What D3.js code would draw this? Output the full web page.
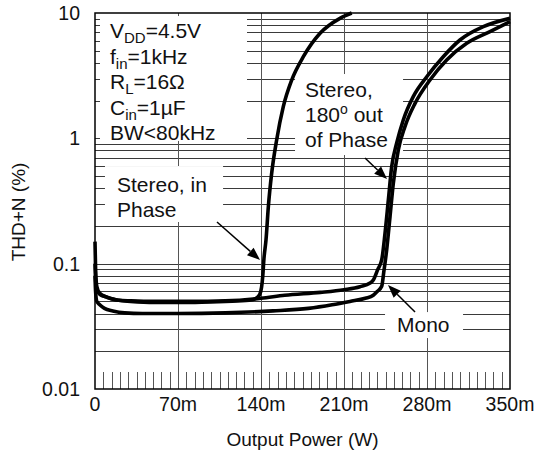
<!DOCTYPE html>
<html><head><meta charset="utf-8">
<script src="https://cdn.jsdelivr.net/npm/d3@7"></script>
<style>
html,body{margin:0;padding:0;background:#fff;}
text{font-family:"Liberation Sans",Arial,Helvetica,sans-serif;fill:#111;}
</style></head>
<body><svg id="c" width="535" height="450"></svg>
<script>
// ---- data ----
const xTickValues = [0, 70, 140, 210, 280, 350];
const xTickLabels = ["0", "70m", "140m", "210m", "280m", "350m"];
const yTickValues = [0.01, 0.1, 1, 10];
const yTickLabels = ["0.01", "0.1", "1", "10"];

// Output power (mW) and THD+N (%)
const stereoInPhaseP = [0, 0.5, 1.5, 4, 10, 20, 30, 50, 80, 110, 130, 136, 139, 140.5, 141.5, 142.5, 144.2, 146.2, 149, 153.2, 158.8, 165.9, 175.7, 189.8, 206.6, 216.5];
const stereoInPhaseT = [0.15, 0.09, 0.066, 0.058, 0.054, 0.051, 0.05, 0.049, 0.049, 0.05, 0.051, 0.053, 0.057, 0.065, 0.08, 0.11, 0.154, 0.285, 0.526, 0.97, 1.79, 2.92, 4.48, 6.89, 9.07, 10];

const stereoOutP = [0, 0.5, 1.5, 4, 10, 20, 30, 50, 80, 110, 140, 160, 190, 210, 223.5, 232, 234.7, 238.5, 241.8, 244.6, 247.4, 250.2, 254.4, 260, 268.4, 279.8, 293.7, 307.8, 327.5, 350];
const stereoOutT = [0.1, 0.075, 0.062, 0.057, 0.054, 0.051, 0.0505, 0.05, 0.05, 0.0505, 0.053, 0.056, 0.059, 0.062, 0.0655, 0.07, 0.074, 0.09, 0.107, 0.175, 0.322, 0.594, 0.913, 1.4, 2.15, 3.1, 4.48, 6.09, 7.78, 9.07];

const monoP = [0, 0.5, 1.5, 4, 8, 15, 25, 40, 70, 110, 150, 180, 200, 215, 228, 234.7, 238, 241.8, 243.5, 246, 248.8, 251.6, 255.8, 261.4, 269.9, 282.5, 296.6, 313.5, 333.1, 350];
const monoT = [0.08, 0.06, 0.05, 0.047, 0.044, 0.042, 0.0405, 0.04, 0.04, 0.0405, 0.042, 0.044, 0.047, 0.05, 0.053, 0.056, 0.06, 0.066, 0.085, 0.129, 0.237, 0.438, 0.807, 1.24, 1.9, 2.92, 4.22, 5.73, 7.1, 8.53];

// ---- layout ----
const W = 535, H = 450;
const m = {left: 95, right: 25, top: 13, bottom: 61};
const iw = W - m.left - m.right, ih = H - m.top - m.bottom;
const FS = 19.5;   // tick labels
const BFS = 21;    // annotation text

const svg = d3.select("#c");
const g = svg.append("g").attr("transform", `translate(${m.left},${m.top})`);

const x = d3.scaleLinear().domain([0, 350]).range([0, iw]);
const y = d3.scaleLog().domain([0.01, 10]).range([ih, 0]);

// horizontal log grid
const hGrid = [];
[0.01, 0.1, 1].forEach(d => { for (let k = 1; k <= 9; k++) hGrid.push(d * k); });
g.append("g").selectAll("line").data(hGrid.filter(v => v > 0.01 && v < 10)).join("line")
  .attr("x1", 0).attr("x2", iw)
  .attr("y1", d => Math.round(y(d)) + 0.5).attr("y2", d => Math.round(y(d)) + 0.5)
  .attr("stroke", "#3a3a3a").attr("stroke-width", 1);

// vertical grid
g.append("g").selectAll("line").data(xTickValues.slice(1, -1)).join("line")
  .attr("x1", d => Math.round(x(d)) + 0.5).attr("x2", d => Math.round(x(d)) + 0.5)
  .attr("y1", 0).attr("y2", ih)
  .attr("stroke", "#555").attr("stroke-width", 1);

// bottom minor ticks every 7m
g.append("g").selectAll("line").data(d3.range(7, 350, 7)).join("line")
  .attr("x1", d => Math.round(x(d)) + 0.5).attr("x2", d => Math.round(x(d)) + 0.5)
  .attr("y1", ih - 17).attr("y2", ih)
  .attr("stroke", "#555").attr("stroke-width", 1);

// annotation boxes (data coordinates)
const boxes = [
  {x0: 4.2, x1: 128.2, y0: 9.46, y1: 0.953},
  {x0: 8.4, x1: 108, y0: 0.601, y1: 0.215},
  {x0: 168.7, x1: 259.8, y0: 3.26, y1: 0.736},
  {x0: 244.6, x1: 310.4, y0: 0.0411, y1: 0.0255}
];
g.append("g").selectAll("rect").data(boxes).join("rect")
  .attr("x", d => x(d.x0)).attr("y", d => y(d.y0))
  .attr("width", d => x(d.x1) - x(d.x0)).attr("height", d => y(d.y1) - y(d.y0))
  .attr("fill", "#fff");

// curves
const line = d3.line().x(d => x(d[0])).y(d => y(d[1])).curve(d3.curveMonotoneX);
const series = [
  d3.zip(stereoInPhaseP, stereoInPhaseT),
  d3.zip(stereoOutP, stereoOutT),
  d3.zip(monoP, monoT)
];
g.append("g").selectAll("path").data(series).join("path")
  .attr("d", line).attr("fill", "none").attr("stroke", "#000")
  .attr("stroke-width", 3.6).attr("stroke-linejoin", "round");

// border
g.append("rect").attr("x", 0).attr("y", 0).attr("width", iw).attr("height", ih)
  .attr("fill", "none").attr("stroke", "#000").attr("stroke-width", 1.5);

// arrows
const arrows = [
  {from: [102.9, 0.215], to: [139.2, 0.107]},
  {from: [227.7, 0.697], to: [246.3, 0.474]},
  {from: [269.9, 0.0411], to: [247.1, 0.0676]}
];
arrows.forEach(a => {
  const x0 = x(a.from[0]), y0 = y(a.from[1]), x1 = x(a.to[0]), y1 = y(a.to[1]);
  const ang = Math.atan2(y1 - y0, x1 - x0);
  const L = 13, hw = 5;
  const bx = x1 - L * Math.cos(ang), by = y1 - L * Math.sin(ang);
  g.append("line").attr("x1", x0).attr("y1", y0).attr("x2", bx).attr("y2", by)
    .attr("stroke", "#000").attr("stroke-width", 1.5);
  g.append("path").attr("d",
    `M${x1},${y1}L${bx - hw * Math.sin(ang)},${by + hw * Math.cos(ang)}L${bx + hw * Math.sin(ang)},${by - hw * Math.cos(ang)}Z`)
    .attr("fill", "#000");
});

// annotation text
function txt(bi, dx, dy) {
  const b = boxes[bi];
  return g.append("text").attr("x", x(b.x0) + dx).attr("y", y(b.y0) + dy).attr("font-size", BFS);
}
function sub(t, main, s, rest) {
  t.append("tspan").text(main);
  t.append("tspan").attr("font-size", 15).attr("dy", 5).text(s);
  t.append("tspan").attr("dy", -5).text(rest);
}
sub(txt(0, 10, 22), "V", "DD", "=4.5V");
sub(txt(0, 10, 47.5), "f", "in", "=1kHz");
sub(txt(0, 10, 73), "R", "L", "=16\u03A9");
sub(txt(0, 10, 98.5), "C", "in", "=1\u00B5F");
txt(0, 10, 124).text("BW<80kHz");

txt(1, 12, 26).text("Stereo, in");
txt(1, 12, 51).text("Phase");

txt(2, 10, 22.7).text("Stereo,");
{
  const t = txt(2, 10, 47.7);
  t.append("tspan").text("180");
  t.append("tspan").attr("font-size", 14).attr("dy", -8).text("o");
  t.append("tspan").attr("dy", 8).text(" out");
}
txt(2, 10, 72.7).text("of Phase");
txt(3, 12, 20.3).text("Mono");

// axis labels
g.append("g").selectAll("text").data(xTickValues).join("text")
  .attr("x", d => x(d)).attr("y", ih + 22).attr("text-anchor", "middle")
  .attr("font-size", FS).text((d, i) => xTickLabels[i]);
g.append("g").selectAll("text").data(yTickValues).join("text")
  .attr("x", -15).attr("y", d => y(d) + 7).attr("text-anchor", "end")
  .attr("font-size", FS).text((d, i) => yTickLabels[i]);

svg.append("text").attr("x", m.left + iw / 2).attr("y", 446).attr("text-anchor", "middle")
  .attr("font-size", 19).text("Output Power (W)");
svg.append("text").attr("transform", "translate(25,212) rotate(-90)").attr("text-anchor", "middle")
  .attr("font-size", 19).text("THD+N (%)");
</script></body></html>
